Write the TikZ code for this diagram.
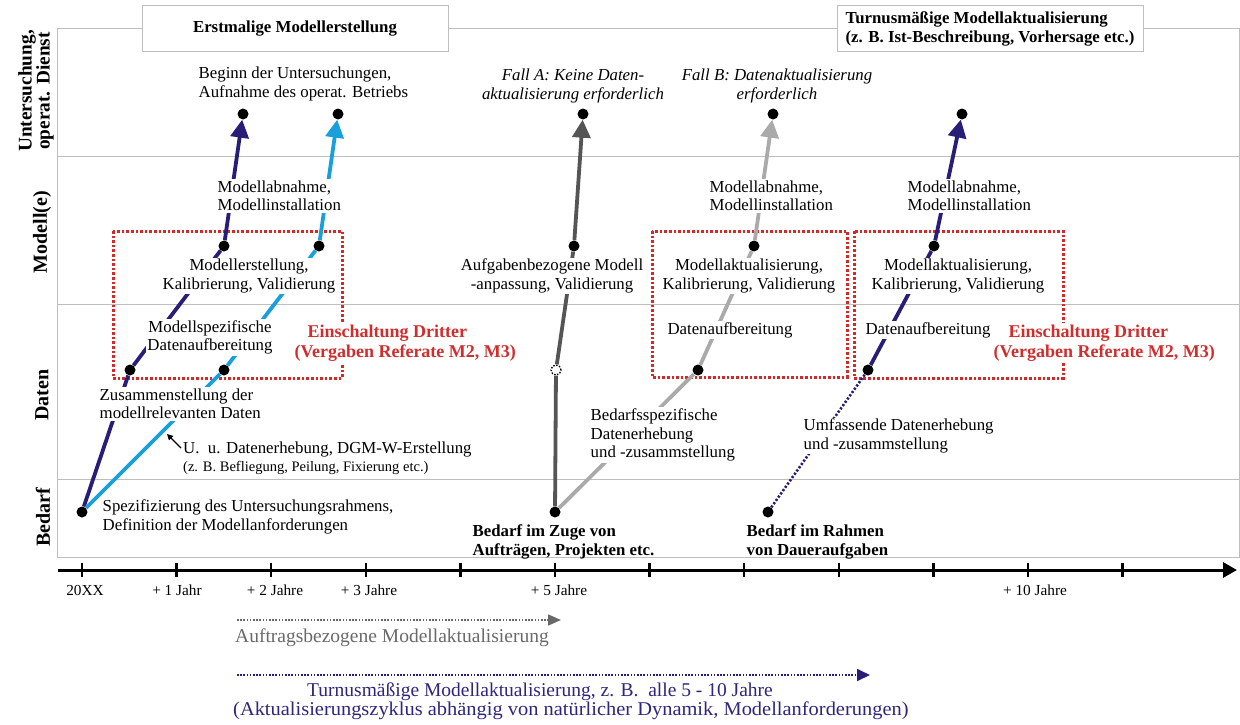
\documentclass[tikz,border=0pt]{standalone}
\usepackage{fontspec}
\setmainfont{Liberation Serif}
\usetikzlibrary{arrows.meta}

\definecolor{navyc}{RGB}{40,30,120}
\definecolor{bluec}{RGB}{25,160,220}
\definecolor{darkg}{RGB}{85,85,85}
\definecolor{lightg}{RGB}{170,170,170}
\definecolor{redtxt}{RGB}{210,45,45}
\definecolor{redln}{RGB}{215,40,40}
\definecolor{gridc}{RGB}{190,190,190}
\definecolor{auftragc}{RGB}{105,105,105}
\definecolor{navytxt}{RGB}{45,38,125}

\tikzset{
  gridline/.style={draw=gridc, line width=1pt},
  hdrbox/.style={draw=gridc, fill=white, line width=1pt, inner sep=0pt,
    font=\bfseries\fontsize{16.8}{19}\selectfont},
  rowlbl/.style={rotate=90, align=center, inner sep=0pt,
    font=\bfseries\fontsize{20}{18}\selectfont},
  lbl/.style={font=\fontsize{16.8}{18.3}\selectfont, inner sep=1.5pt,
    fill=white, align=center},
  lbll/.style={lbl, align=left, anchor=west},
  ital/.style={lbl, font=\itshape\fontsize{16.8}{18.3}\selectfont},
  boldl/.style={font=\bfseries\fontsize{16.8}{19}\selectfont, inner sep=1.5pt,
    align=left, anchor=west},
  thirdp/.style={lbll, text=redtxt, font=\bfseries\fontsize{18}{20}\selectfont},
  axl/.style={font=\fontsize{15.3}{17}\selectfont, inner sep=0pt},
  dot/.style={circle, fill=black, inner sep=0pt, minimum size=11pt},
  opendot/.style={circle, draw=black, fill=white, line width=1.3pt,
    dash pattern=on 1.5pt off 1.5pt, inner sep=0pt, minimum size=10pt},
  flow/.style={line width=3.8pt},
  head/.style={-{Triangle[length=18pt,width=18pt]}},
  redbox/.style={draw=redln, line width=3pt, dash pattern=on 2.6pt off 2pt},
  dotflow/.style={line width=2.6pt, dash pattern=on 2.2pt off 1.8pt},
  bottomtxt/.style={font=\fontsize{19.5}{17.5}\selectfont, inner sep=0pt,
    anchor=west, align=left},
}

\begin{document}
\begin{tikzpicture}[x=1pt,y=-1pt]
\useasboundingbox (0,0) rectangle (1240,725);

% frame with the four rows
\draw[gridline] (57,29) rectangle (1239,557);
\foreach \yy in {156,304,479} \draw[gridline] (57,\yy) -- (1239,\yy);

% headings
\node[hdrbox, minimum width=306pt, minimum height=46pt] (hdrA) at (295,29)
  {Erstmalige Modellerstellung};
\node[hdrbox, minimum width=306pt, minimum height=46pt, align=left]
  (hdrB) at (990,29)
  {Turnusmäßige Modellaktualisierung\\(z. B. Ist-Beschreibung, Vorhersage etc.)};

% row labels
\node[rowlbl, font=\bfseries\fontsize{19.3}{18}\selectfont] (rowU) at (36,91)
  {Untersuchung,\\operat. Dienst};
\node[rowlbl] (rowM) at (42,232) {Modell(e)};
\node[rowlbl] (rowD) at (42,395) {Daten};
\node[rowlbl] (rowB) at (43,517) {Bedarf};

% third-party frames
\draw[redbox] (113,231) rectangle (342,378);
\draw[redbox] (652,231) rectangle (847,377);
\draw[redbox] (854,231) rectangle (1063,378);

% time axis
\coordinate (t0) at (58,570);
\coordinate (t1) at (1237,570);
\draw[line width=3pt, -{Triangle[length=14pt,width=15pt]}] (t0) -- (t1);
\foreach \k in {0,...,11}
  \draw[line width=2.4pt] ({82+94.6*\k},563) -- ({82+94.6*\k},577);
\node[axl] (y0) at (85,590) {20XX};
\node[axl] (y1) at (177,590) {+ 1 Jahr};
\node[axl] (y2) at (275,590) {+ 2 Jahre};
\node[axl] (y3) at (369,590) {+ 3 Jahre};
\node[axl] (y5) at (559,590) {+ 5 Jahre};
\node[axl] (y10) at (1035,590) {+ 10 Jahre};

% milestones
\node[dot] (s0) at (82,512) {};
\node[dot] (n1) at (130,370) {};
\node[dot] (n2) at (224,246) {};
\node[dot] (n3) at (243,114) {};
\node[dot] (b1) at (224,370) {};
\node[dot] (b2) at (319,246) {};
\node[dot] (b3) at (338,114) {};
\node[dot] (s5) at (555,512) {};
\node[opendot] (hc) at (556,370) {};
\node[dot] (g2) at (574,246) {};
\node[dot] (g3) at (583,114) {};
\node[dot] (l1) at (698,370) {};
\node[dot] (l2) at (754,246) {};
\node[dot] (l3) at (773,114) {};
\node[dot] (s9) at (768,512) {};
\node[dot] (r1) at (868,370) {};
\node[dot] (r2) at (934,246) {};
\node[dot] (r3) at (962,114) {};

% first model set-up
\draw[flow, navyc] (s0) -- (n1);
\draw[flow, navyc] (n1) -- (n2);
\draw[flow, navyc, head] (n2) -- (n3);
\draw[flow, bluec] (s0) -- (b1);
\draw[flow, bluec] (b1) -- (b2);
\draw[flow, bluec, head] (b2) -- (b3);

% order-related update
\draw[flow, darkg] (s5) -- (hc);
\draw[flow, darkg] (hc) -- (g2);
\draw[flow, darkg, head] (g2) -- (g3);
\draw[flow, lightg] (s5) -- (l1);
\draw[flow, lightg] (l1) -- (l2);
\draw[flow, lightg, head] (l2) -- (l3);

% periodic update
\draw[dotflow, navyc] (s9) -- (r1);
\draw[flow, navyc] (r1) -- (r2);
\draw[flow, navyc, head] (r2) -- (r3);

% labels on top of the flow lines
\node[lbll] (begin) at (197,84)
  {Beginn der Untersuchungen,\\Aufnahme des operat. Betriebs};
\node[lbll] (abn1) at (216,196) {Modellabnahme,\\Modellinstallation};
\node[lbl] (erst) at (249,276) {Modellerstellung,\\Kalibrierung, Validierung};
\node[lbl] (spez) at (210,337.5) {Modellspezifische\\Datenaufbereitung};
\node[lbll] (zus) at (98,404) {Zusammenstellung der\\modellrelevanten Daten};
\node[lbll, inner sep=1pt] (uu) at (182,458)
  {U.\ \ u. Datenerhebung, DGM-W-Erstellung\\
   {\fontsize{14.5}{17}\selectfont (z. B. Befliegung, Peilung, Fixierung etc.)}};
\coordinate (ua) at (181,448);
\coordinate (ub) at (167,434);
\draw[line width=1.2pt, -{Triangle[length=6pt,width=6pt]}] (ua) -- (ub);
\node[thirdp] (dritt1) at (293,343)
  {\hspace*{13pt}Einschaltung Dritter\\(Vergaben Referate M2, M3)};
\node[lbll] (spezU) at (101,517)
  {Spezifizierung des Untersuchungsrahmens,\\Definition der Modellanforderungen};

\node[ital] (fallA) at (573,86) {Fall A: Keine Daten-\\aktualisierung erforderlich};
\node[ital] (fallB) at (777,86) {Fall B: Datenaktualisierung\\erforderlich};
\node[lbl] (aufg) at (552,276) {Aufgabenbezogene Modell\\-anpassung, Validierung};
\node[lbll] (bedsp) at (589,435)
  {Bedarfsspezifische\\Datenerhebung\\und -zusammstellung};
\node[lbll] (abn2) at (708,196) {Modellabnahme,\\Modellinstallation};
\node[lbl] (akt2) at (749,276) {Modellaktualisierung,\\Kalibrierung, Validierung};
\node[lbl] (dat2) at (730,330) {Datenaufbereitung};

\node[lbll] (abn3) at (906,196) {Modellabnahme,\\Modellinstallation};
\node[lbl] (akt3) at (958,276) {Modellaktualisierung,\\Kalibrierung, Validierung};
\node[lbl] (dat3) at (928,330) {Datenaufbereitung};
\node[lbll] (umf) at (802,436) {Umfassende Datenerhebung\\und -zusammstellung};
\node[thirdp] (dritt3) at (992,343)
  {\hspace*{15pt}Einschaltung Dritter\\(Vergaben Referate M2, M3)};

\node[boldl] (bedZ) at (471,541.5) {Bedarf im Zuge von\\Aufträgen, Projekten etc.};
\node[boldl] (bedR) at (745,541.5) {Bedarf im Rahmen\\von Daueraufgaben};

% update cycles below the axis
\coordinate (a0) at (237,620);
\coordinate (a1) at (561,620);
\draw[auftragc, line width=1.6pt, dash pattern=on 1.6pt off 1.6pt,
  -{Triangle[length=13pt,width=11pt]}] (a0) -- (a1);
\node[bottomtxt, text=auftragc] (auftxt) at (235,638)
  {Auftragsbezogene Modellaktualisierung};
\coordinate (c0) at (237,675);
\coordinate (c1) at (870,675);
\draw[navyc, line width=1.8pt, dash pattern=on 1.6pt off 1.6pt,
  -{Triangle[length=13pt,width=12pt]}] (c0) -- (c1);
\node[bottomtxt, text=navytxt] (turntxt) at (233,701.5)
  {\hspace*{74pt}Turnusmäßige Modellaktualisierung, z. B.\ \ alle 5 - 10 Jahre\\
   \scalebox{1.048}[1]{(Aktualisierungszyklus abhängig von natürlicher Dynamik, Modellanforderungen)}};
\end{tikzpicture}
\end{document}
